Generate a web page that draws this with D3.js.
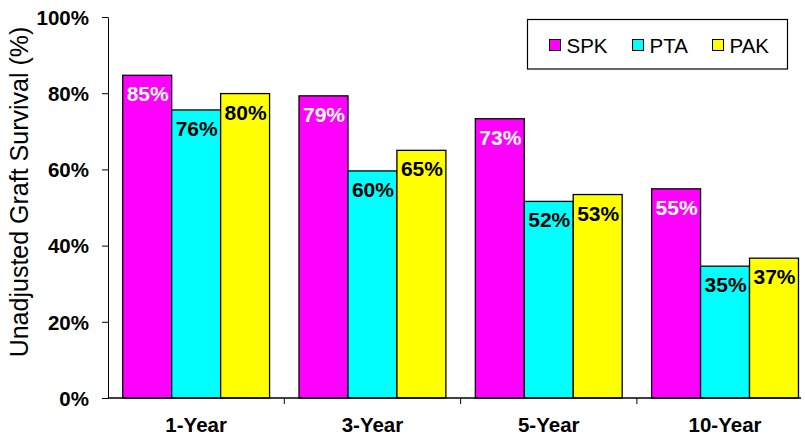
<!DOCTYPE html>
<html>
<head>
<meta charset="utf-8">
<script src="https://cdn.jsdelivr.net/npm/d3@7"></script>
<style>
  body { margin: 0; background: #fff; }
  text { font-family: Arial, "Liberation Sans", sans-serif; }
</style>
</head>
<body>
<svg id="chart" width="805" height="438"></svg>
<script>
// data
const periods = ["1-Year", "3-Year", "5-Year", "10-Year"];
const groups = ["SPK", "PTA", "PAK"];
const spk = [84.7, 79.3, 73.3, 54.9];
const pta = [75.6, 59.6, 51.6, 34.6];
const pak = [79.9, 65.0, 53.4, 36.7];
const yTicks = [0, 20, 40, 60, 80, 100];
const colors = ["#ff00ff", "#00ffff", "#ffff00"];
const labelColors = ["#fff", "#000", "#000"];

const series = [spk, pta, pak];

const svg = d3.select("#chart");
const plotLeft = 108, plotTop = 17, plotBottom = 398, bandW = 176.3;

const x = d3.scaleBand()
  .domain(periods)
  .range([plotLeft, plotLeft + bandW * periods.length])
  .paddingInner(0.167)
  .paddingOuter(0.0835);
const xi = d3.scaleBand().domain(groups).range([0, x.bandwidth()]);
const y = d3.scaleLinear().domain([0, 100]).range([plotBottom, plotTop]);

// y axis
const yAxis = svg.append("g")
  .attr("transform", `translate(${plotLeft},0)`)
  .call(d3.axisLeft(y).tickValues(yTicks).tickFormat(d => d + "%").tickSize(6).tickSizeOuter(0));
yAxis.select(".domain").attr("stroke", "#000").attr("stroke-width", 1);
yAxis.selectAll(".tick line").attr("stroke", "#000");
yAxis.selectAll(".tick text")
  .attr("x", -19)
  .attr("dy", "0.36em")
  .style("font-size", "20.5px")
  .style("font-weight", "bold")
  .attr("fill", "#000");

// bars
periods.forEach((p, i) => {
  const g = svg.append("g").attr("transform", `translate(${x(p)},0)`);
  groups.forEach((s, j) => {
    const v = series[j][i];
    g.append("rect")
      .attr("x", xi(s))
      .attr("y", y(v))
      .attr("width", xi.bandwidth())
      .attr("height", y(0) - y(v))
      .attr("fill", colors[j])
      .attr("stroke", "#000")
      .attr("stroke-width", 1.3);
    g.append("text")
      .attr("x", xi(s) + xi.bandwidth() / 2 + 0.5)
      .attr("y", y(v) + 26)
      .attr("text-anchor", "middle")
      .style("font-size", "21px")
      .style("font-weight", "bold")
      .attr("fill", labelColors[j])
      .text(Math.round(v) + "%");
  });
});

// x axis: line with ticks at band boundaries
const xg = svg.append("g");
xg.append("line")
  .attr("x1", plotLeft).attr("x2", 801)
  .attr("y1", plotBottom).attr("y2", plotBottom)
  .attr("stroke", "#000").attr("stroke-width", 1.3);
d3.range(1, periods.length).forEach(k => {
  const bx = x(periods[k]) - x.step() * x.paddingInner() / 2;
  xg.append("line")
    .attr("x1", bx).attr("x2", bx)
    .attr("y1", plotBottom).attr("y2", plotBottom + 6)
    .attr("stroke", "#000");
});
xg.selectAll("text.cat")
  .data(periods)
  .join("text")
  .attr("class", "cat")
  .attr("x", d => x(d) + x.bandwidth() / 2)
  .attr("y", 432)
  .attr("text-anchor", "middle")
  .style("font-size", "20.5px")
  .style("font-weight", "bold")
  .text(d => d);

// y title
svg.append("text")
  .attr("transform", "translate(28,192) rotate(-90)")
  .attr("text-anchor", "middle")
  .style("font-size", "25px")
  .text("Unadjusted Graft Survival (%)");

// legend
const lg = svg.append("g");
lg.append("rect")
  .attr("x", 527.5).attr("y", 19.5)
  .attr("width", 260).attr("height", 49.5)
  .attr("fill", "#fff").attr("stroke", "#000").attr("stroke-width", 1.2);
const legX = [549.5, 632.5, 712.5];
groups.forEach((s, j) => {
  lg.append("rect")
    .attr("x", legX[j]).attr("y", 39.5)
    .attr("width", 11).attr("height", 11)
    .attr("fill", colors[j]).attr("stroke", "#000").attr("stroke-width", 1);
  lg.append("text")
    .attr("x", legX[j] + 17)
    .attr("y", 52.5)
    .style("font-size", "20.5px")
    .text(s);
});
</script>
</body>
</html>
